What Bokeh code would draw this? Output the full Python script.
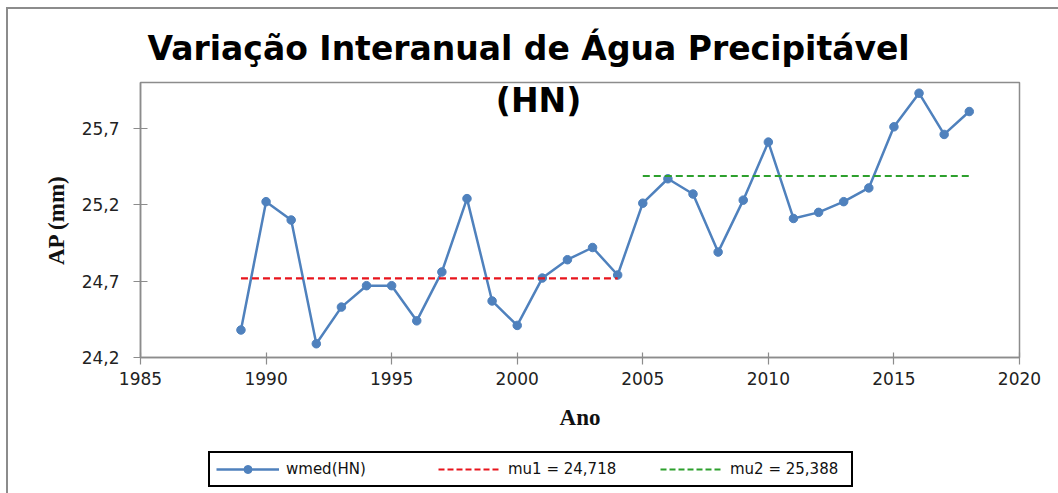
from bokeh.plotting import figure
from bokeh.layouts import column
from bokeh.models import Range1d, FixedTicker, CustomJSTickFormatter, Label, Legend, LegendItem
from bokeh.embed import file_html
from bokeh.resources import INLINE

# ---- data ----
years = list(range(1989, 2019))
wmed = [24.38, 25.22, 25.10, 24.29, 24.53, 24.67, 24.67, 24.44, 24.76, 25.24,
        24.57, 24.41, 24.72, 24.84, 24.92, 24.74, 25.21, 25.37, 25.27, 24.89,
        25.23, 25.61, 25.11, 25.15, 25.22, 25.31, 25.71, 25.93, 25.66, 25.81]
mu1_years = [1989, 2004]
mu1_value = 24.718
mu2_years = [2005, 2018]
mu2_value = 25.388
x_ticks = [1985, 1990, 1995, 2000, 2005, 2010, 2015, 2020]
y_ticks = [24.2, 24.7, 25.2, 25.7]
title_line1 = "Variação Interanual de Água Precipitável"
title_line2 = "(HN)"
labels = ["wmed(HN)", "mu1 = 24,718", "mu2 = 25,388"]

BLUE = "#4F81BD"
RED = "#E8141C"
GREEN = "#2DA02D"
GREY = "#8C8C8C"
W = 1050

# ---------------- main chart ----------------
p = figure(width=W, height=431, output_backend="svg", toolbar_location=None,
           x_range=Range1d(1985, 2020), y_range=Range1d(24.2, 26.0),
           min_border_left=132, min_border_right=39, min_border_top=73,
           min_border_bottom=83)
p.background_fill_color = "white"
p.border_fill_color = "white"
p.outline_line_color = GREY
p.outline_line_width = 1.5
p.xgrid.visible = False
p.ygrid.visible = False

p.title.text = title_line1
p.title.align = "left"
p.title.offset = 7
p.title.vertical_align = "bottom"
p.title.standoff = 30
p.title.text_font = "DejaVu Sans"
p.title.text_font_style = "bold"
p.title.text_font_size = "33px"
p.title.text_color = "black"

for ax in (p.xaxis[0], p.yaxis[0]):
    ax.axis_line_color = GREY
    ax.axis_line_width = 1.5
    ax.major_tick_line_color = GREY
    ax.major_tick_line_width = 1.2
    ax.minor_tick_line_color = None
    ax.major_label_text_font = "DejaVu Sans"
    ax.major_label_text_font_size = "17px"
    ax.major_label_text_color = "#222222"
    ax.axis_label_text_font = "Liberation Serif"
    ax.axis_label_text_font_style = "bold"
    ax.axis_label_text_font_size = "23px"
    ax.axis_label_text_color = "#111111"

p.xaxis.ticker = FixedTicker(ticks=x_ticks)
p.xaxis.major_tick_in = 5
p.xaxis.major_tick_out = 7
p.xaxis.major_label_standoff = 7
p.xaxis.axis_label = "Ano"
p.xaxis.axis_label_standoff = 17

p.yaxis.ticker = FixedTicker(ticks=y_ticks)
p.yaxis.formatter = CustomJSTickFormatter(code="return tick.toFixed(1).replace('.', ',');")
p.yaxis.major_tick_in = 7
p.yaxis.major_tick_out = 7
p.yaxis.major_label_standoff = 14
p.yaxis.axis_label = "AP (mm)"
p.yaxis.axis_label_standoff = 10

p.line(years, wmed, line_color=BLUE, line_width=2.5)
p.scatter(years, wmed, size=8.5, fill_color=BLUE, line_color=BLUE)
p.line(mu1_years, [mu1_value, mu1_value], line_color=RED, line_width=2.2, line_dash="7 4")
p.line(mu2_years, [mu2_value, mu2_value], line_color=GREEN, line_width=2.2, line_dash="7 4")

p.add_layout(Label(x=2000.85, y=25.88, text=title_line2, text_align="center",
                   text_baseline="middle", text_font="DejaVu Sans",
                   text_font_style="bold", text_font_size="33px", text_color="black"))

# ---------------- legend strip (same series, off-range, only their keys show) ----------------
lg = figure(width=W, height=53, output_backend="svg", toolbar_location=None,
            x_range=Range1d(0, 1), y_range=Range1d(0, 1),
            x_axis_location=None, y_axis_location=None,
            min_border=0, min_border_left=0, min_border_right=0,
            min_border_top=0, min_border_bottom=0)
lg.outline_line_color = None
lg.grid.visible = False
lg.background_fill_color = "white"
lg.border_fill_color = "white"

k_line = lg.line(years, wmed, line_color=BLUE, line_width=2.5)
k_pts = lg.scatter(years, wmed, size=8.5, fill_color=BLUE, line_color=BLUE)
k_mu1 = lg.line(mu1_years, [mu1_value, mu1_value], line_color=RED, line_width=2.2,
                line_dash="6 3")
k_mu2 = lg.line(mu2_years, [mu2_value, mu2_value], line_color=GREEN, line_width=2.2,
                line_dash="6 3")

legend = Legend(items=[LegendItem(label=labels[0], renderers=[k_line, k_pts]),
                       LegendItem(label=labels[1], renderers=[k_mu1]),
                       LegendItem(label=labels[2], renderers=[k_mu2])],
                orientation="horizontal", location=(68, 6))
legend.border_line_color = "black"
legend.border_line_alpha = 1
legend.border_line_width = 2
legend.background_fill_color = "white"
legend.background_fill_alpha = 1
legend.label_text_font = "DejaVu Sans"
legend.label_text_font_size = "15px"
legend.label_text_color = "#111111"
legend.label_width = 115
legend.glyph_width = 63
legend.glyph_height = 20
legend.label_standoff = 7
legend.spacing = 37
legend.padding = 6
lg.add_layout(legend, "center")

layout = column(p, lg, spacing=0)
layout.styles = {"border-left": "2px solid #8c8c8c", "border-top": "2px solid #8c8c8c",
                 "margin-left": "6px", "margin-top": "7px"}

open("out.html", "w").write(file_html(layout, INLINE))
